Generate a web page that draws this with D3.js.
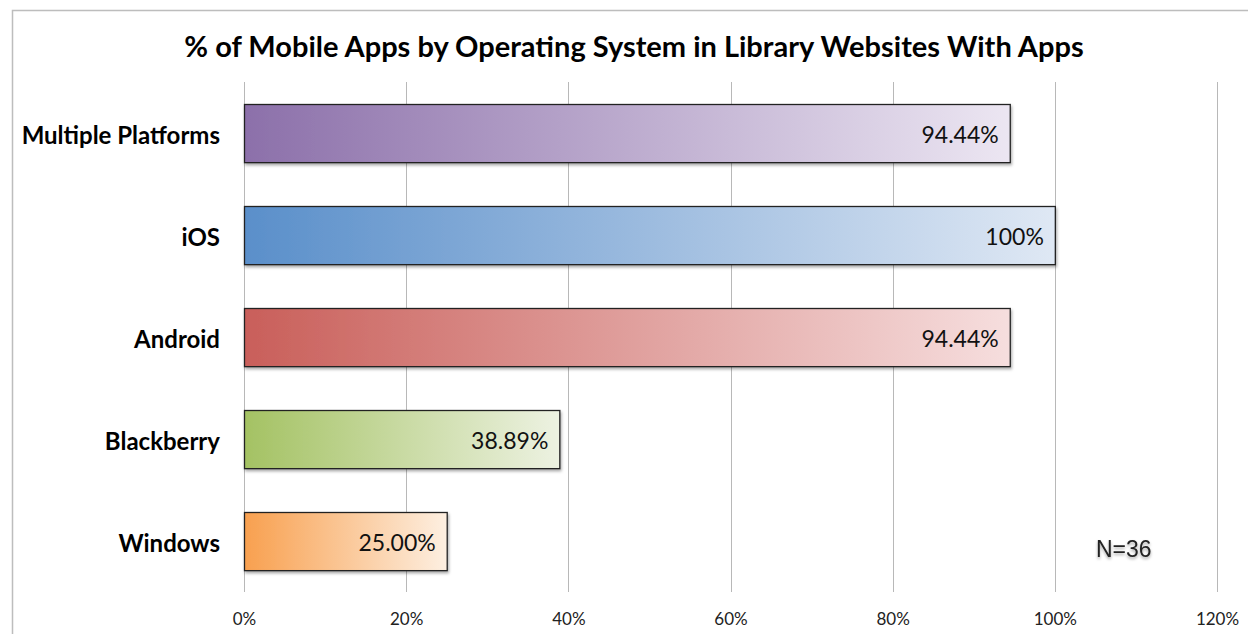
<!DOCTYPE html>
<html>
<head>
<meta charset="utf-8">
<script src="https://cdn.jsdelivr.net/npm/d3@7"></script>
<style>
  body { margin: 0; background: #fff; }
  svg { display: block; }
  .title { font-family: Lato, "Open Sans", sans-serif; font-weight: 700; font-size: 29px; fill: #000; }
  .cat { font-family: Lato, "Open Sans", sans-serif; font-weight: 700; font-size: 24px; fill: #000; }
  .val { font-family: Lato, "Open Sans", sans-serif; font-size: 23px; fill: #111; }
  .tick text { font-family: Lato, "Open Sans", sans-serif; font-size: 17px; fill: #222; }
  .note { font-family: "Liberation Sans", Arial, sans-serif; font-size: 23px; fill: #222; }
</style>
</head>
<body>
<div id="chart"></div>
<script>
// data
const categories = ["Multiple Platforms", "iOS", "Android", "Blackberry", "Windows"];
const values = [94.44, 100, 94.44, 38.89, 25.00];
const valueLabels = ["94.44%", "100%", "94.44%", "38.89%", "25.00%"];
const ticks = [0, 20, 40, 60, 80, 100, 120];
const colorsStart = ["#8c70aa", "#5a8fca", "#c95f5a", "#a4c263", "#f8a04f"];
const colorsEnd = ["#ece6f2", "#dfe8f4", "#f6dede", "#edf2e2", "#fdefe1"];

const W = 1248, H = 634;
const margin = { top: 82, right: 31, bottom: 42, left: 244 };
const width = W - margin.left - margin.right;
const height = H - margin.top - margin.bottom;

const svg = d3.select("#chart").append("svg")
    .attr("width", W).attr("height", H);

const defs = svg.append("defs");
categories.forEach((c, i) => {
    const g = defs.append("linearGradient").attr("id", "grad" + i)
        .attr("x1", "0%").attr("x2", "100%").attr("y1", "0%").attr("y2", "0%");
    g.append("stop").attr("offset", "0%").attr("stop-color", colorsStart[i]);
    g.append("stop").attr("offset", "100%").attr("stop-color", colorsEnd[i]);
});
const shadow = defs.append("filter").attr("id", "shadow")
    .attr("x", "-5%").attr("y", "-20%").attr("width", "110%").attr("height", "150%");
shadow.append("feDropShadow").attr("dx", 1).attr("dy", 2).attr("stdDeviation", 1.5)
    .attr("flood-color", "#000").attr("flood-opacity", 0.35);
const txtShadow = defs.append("filter").attr("id", "txtshadow");
txtShadow.append("feDropShadow").attr("dx", 0).attr("dy", 2).attr("stdDeviation", 1.5)
    .attr("flood-color", "#000").attr("flood-opacity", 0.35);

// outer frame
svg.append("rect").attr("x", 12.5).attr("y", 10.5).attr("width", W).attr("height", H)
    .attr("fill", "none").attr("stroke", "#bdbdbd").attr("stroke-width", 1.5);

svg.append("text").attr("class", "title")
    .attr("x", 634).attr("y", 57).attr("text-anchor", "middle")
    .text("% of Mobile Apps by Operating System in Library Websites With Apps");

const g = svg.append("g").attr("transform", `translate(${margin.left},${margin.top})`);

const x = d3.scaleLinear().domain([0, 120]).range([0, width]);
const y = d3.scaleBand().domain(categories).range([0, height]).paddingInner(0.43).paddingOuter(0.215);

// gridlines
g.append("g").selectAll("line").data(ticks).join("line")
    .attr("x1", d => Math.round(x(d)) + 0.5).attr("x2", d => Math.round(x(d)) + 0.5)
    .attr("y1", 0).attr("y2", height)
    .attr("stroke", "#b8b8b8").attr("stroke-width", 1);

// axis labels
const xAxis = g.append("g").attr("transform", `translate(0,${height})`)
    .call(d3.axisBottom(x).tickValues(ticks).tickFormat(d => d + "%").tickSize(0).tickPadding(21));
xAxis.select(".domain").remove();

// bars
g.append("g").selectAll("rect").data(values).join("rect")
    .attr("x", x(0) + 0.5)
    .attr("y", (d, i) => Math.round(y(categories[i])) + 0.5)
    .attr("width", d => x(d))
    .attr("height", y.bandwidth())
    .attr("fill", (d, i) => `url(#grad${i})`)
    .attr("stroke", "#222").attr("stroke-width", 1.3)
    .attr("filter", "url(#shadow)");

// value labels
g.append("g").selectAll("text").data(values).join("text")
    .attr("class", "val")
    .attr("x", d => x(d) - 11)
    .attr("y", (d, i) => y(categories[i]) + y.bandwidth() / 2 + 2)
    .attr("dy", "0.36em")
    .attr("text-anchor", "end")
    .text((d, i) => valueLabels[i]);

// category labels
g.append("g").selectAll("text").data(categories).join("text")
    .attr("class", "cat")
    .attr("x", -24)
    .attr("y", d => y(d) + y.bandwidth() / 2 + 2)
    .attr("dy", "0.36em")
    .attr("text-anchor", "end")
    .text(d => d);

svg.append("text").attr("class", "note")
    .attr("x", 1096).attr("y", 557)
    .attr("filter", "url(#txtshadow)")
    .text("N=36");
</script>
</body>
</html>
